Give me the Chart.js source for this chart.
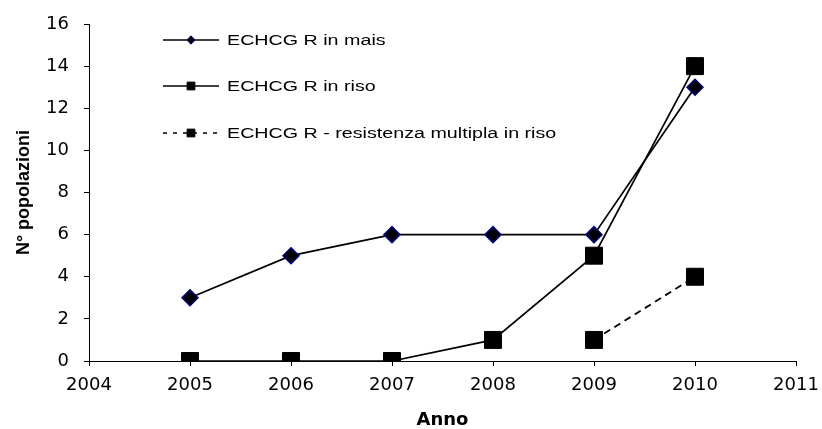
<!DOCTYPE html>
<html>
<head>
<meta charset="utf-8">
<script src="https://cdn.jsdelivr.net/npm/chart.js@4/dist/chart.umd.min.js"></script>
<style>
  html, body { margin: 0; padding: 0; background: #fff; }
  #wrap { width: 822px; height: 429px; }
</style>
</head>
<body>
<div id="wrap"><canvas id="chart"></canvas></div>
<script>
// data
const years = [2005, 2006, 2007, 2008, 2009, 2010];
const maisValues = [3, 5, 6, 6, 6, 13];
const risoValues = [0, 0, 0, 1, 5, 14];
const multiplaYears = [2009, 2010];
const multiplaValues = [1, 4];
const yTicks = [0, 2, 4, 6, 8, 10, 12, 14, 16];
const xTicks = [2004, 2005, 2006, 2007, 2008, 2009, 2010, 2011];

const labels = ["ECHCG R in mais", "ECHCG R in riso", "ECHCG R - resistenza multipla in riso"];

function toPoints(xs, ys) {
  return xs.map((x, i) => ({ x: x, y: ys[i] }));
}

const arial = "'Liberation Sans', Arial, sans-serif";
const wide = "'DejaVu Sans', sans-serif";

// legend drawn inside the plot, line through marker
// (the original picture is a bit stretched sideways, so the text is too)
const insideLegend = {
  id: "insideLegend",
  afterDraw(chart) {
    const ctx = chart.ctx;
    const rows = [40, 86, 133];
    chart.data.datasets.forEach((ds, i) => {
      const y = rows[i];
      ctx.save();
      ctx.strokeStyle = "#000";
      ctx.lineWidth = 1.3;
      ctx.setLineDash(ds.borderDash ? [4, 6] : []);
      ctx.beginPath();
      ctx.moveTo(163, y);
      ctx.lineTo(219, y);
      ctx.stroke();
      ctx.setLineDash([]);
      ctx.fillStyle = ds.pointBackgroundColor;
      ctx.strokeStyle = ds.pointBorderColor;
      ctx.lineWidth = 1;
      Chart.helpers.drawPoint(ctx, {
        pointStyle: ds.pointStyle,
        radius: ds.pointStyle === "rectRot" ? 4.2 : 5.5,
        borderWidth: 1
      }, 191, y);
      ctx.fillStyle = "#000";
      ctx.font = "15.5px " + arial;
      ctx.textBaseline = "middle";
      ctx.translate(227, y + 1);
      ctx.scale(1.27, 1);
      ctx.fillText(ds.label, 0, 0);
      ctx.restore();
    });
  }
};

new Chart(document.getElementById("chart"), {
  type: "line",
  data: {
    datasets: [
      {
        label: labels[0],
        data: toPoints(years, maisValues),
        borderColor: "#000",
        borderWidth: 1.7,
        pointStyle: "rectRot",
        pointRadius: 8,
        pointBackgroundColor: "#000",
        pointBorderColor: "#000080",
        pointBorderWidth: 1.5
      },
      {
        label: labels[1],
        data: toPoints(years, risoValues),
        borderColor: "#000",
        borderWidth: 1.7,
        pointStyle: "rect",
        pointRadius: 12,
        pointBackgroundColor: "#000",
        pointBorderColor: "#000",
        pointBorderWidth: 1
      },
      {
        label: labels[2],
        data: toPoints(multiplaYears, multiplaValues),
        borderColor: "#000",
        borderWidth: 1.8,
        borderDash: [7, 5],
        pointStyle: "rect",
        pointRadius: 12,
        pointBackgroundColor: "#000",
        pointBorderColor: "#000",
        pointBorderWidth: 1
      }
    ]
  },
  options: {
    responsive: true,
    maintainAspectRatio: false,
    animation: false,
    layout: { padding: { top: 24, right: 26, left: 0, bottom: 0 } },
    plugins: {
      legend: { display: false },
      tooltip: { enabled: false }
    },
    elements: { line: { tension: 0 } },
    scales: {
      x: {
        type: "linear",
        min: xTicks[0],
        max: xTicks[xTicks.length - 1],
        afterBuildTicks(axis) { axis.ticks = xTicks.map(v => ({ value: v })); },
        afterFit(axis) {
          axis.height = 68;
          axis.paddingLeft = 0;
          axis.paddingRight = 0;
        },
        ticks: {
          color: "#000",
          font: { family: wide, size: 18 },
          padding: 9,
          maxRotation: 0,
          callback: v => String(v)
        },
        grid: { drawOnChartArea: false, drawTicks: true, tickLength: 5, color: "#000" },
        border: { display: true, color: "#000", width: 1 },
        title: {
          display: true,
          text: "Anno",
          color: "#000",
          font: { family: wide, size: 18, weight: "bold", lineHeight: 1 },
          padding: { top: 0, bottom: 0 }
        }
      },
      y: {
        min: yTicks[0],
        max: yTicks[yTicks.length - 1],
        afterBuildTicks(axis) { axis.ticks = yTicks.map(v => ({ value: v })); },
        afterFit(axis) {
          axis.width = 89;
          axis.paddingTop = 0;
          axis.paddingBottom = 0;
        },
        ticks: {
          color: "#000",
          font: { family: wide, size: 18 },
          padding: 15
        },
        grid: { drawOnChartArea: false, drawTicks: true, tickLength: 5, color: "#000" },
        border: { display: true, color: "#000", width: 1 },
        title: {
          display: true,
          text: "N° popolazioni",
          color: "#000",
          font: { family: arial, size: 18, weight: "bold" },
          padding: { top: 13, bottom: 0 }
        }
      }
    }
  },
  plugins: [insideLegend]
});
</script>
</body>
</html>
